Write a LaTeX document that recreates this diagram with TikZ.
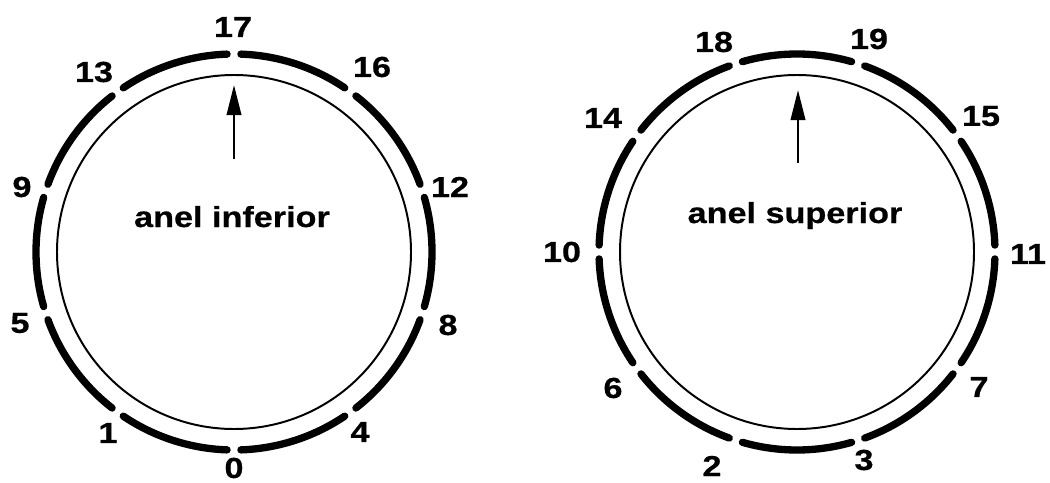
\documentclass[tikz,border=0pt]{standalone}
\usepackage{fontspec}
\usetikzlibrary{arrows.meta}
\newfontfamily\ringfont[FakeStretch=1.18, BoldFeatures={FakeBold=0.6}]{Liberation Sans}

\begin{document}
\begin{tikzpicture}[x=0.025cm, y=0.025cm,
		ring/.style={line width=5.2pt, line cap=round},
		core/.style={line width=1.4pt},
		num/.style={font=\ringfont\bfseries\fontsize{20.6}{24}\selectfont, inner sep=0pt},
		pointer/.style={-{Triangle[length=0.75cm, width=0.36cm]}, line width=1.8pt}]
		\useasboundingbox (0, 0) rectangle (1050, 482);
		% anel inferior
		\coordinate (L) at (234, 230);
		\draw[core] (L) circle[radius=177];
		\foreach \a in {18, 54, ..., 342}
			\draw[ring] ([shift={({\a+2}:198)}]L) arc[start angle=\a+2, end angle=\a+34, radius=198];
		\node[num] (n17) at (233, 455) {17};
		\node[num] (n16) at (372, 415) {16};
		\node[num] (n12) at (450, 295) {12};
		\node[num] (n8) at (448, 157) {8};
		\node[num] (n4) at (360, 50) {4};
		\node[num] (n0) at (234, 14) {0};
		\node[num] (n1) at (108, 49) {1};
		\node[num] (n5) at (20, 159) {5};
		\node[num] (n9) at (22, 295) {9};
		\node[num] (n13) at (94, 410) {13};
		\node[num, anchor=base] (inf) at (232, 255) {anel inferior};
		\coordinate (tailL) at (234, 323);
		\coordinate (tipL) at (234, 397);
		\draw[pointer] (tailL) -- (tipL);
		% anel superior
		\coordinate (R) at (797, 230);
		\draw[core] (R) circle[radius=177];
		\foreach \a in {0, 36, ..., 324}
			\draw[ring] ([shift={({\a+2}:198)}]R) arc[start angle=\a+2, end angle=\a+34, radius=198];
		\node[num] (n18) at (714, 440) {18};
		\node[num] (n19) at (869, 443) {19};
		\node[num] (n15) at (981, 366) {15};
		\node[num] (n11) at (1028, 228) {11};
		\node[num] (n7) at (979, 95) {7};
		\node[num] (n3) at (864, 22) {3};
		\node[num] (n2) at (712, 16) {2};
		\node[num] (n6) at (613, 94) {6};
		\node[num] (n10) at (562, 230) {10};
		\node[num] (n14) at (603, 364) {14};
		\node[num, anchor=base] (sup) at (795, 259) {anel superior};
		\coordinate (tailR) at (798, 319);
		\coordinate (tipR) at (798, 392);
		\draw[pointer] (tailR) -- (tipR);
	\end{tikzpicture}
\end{document}
